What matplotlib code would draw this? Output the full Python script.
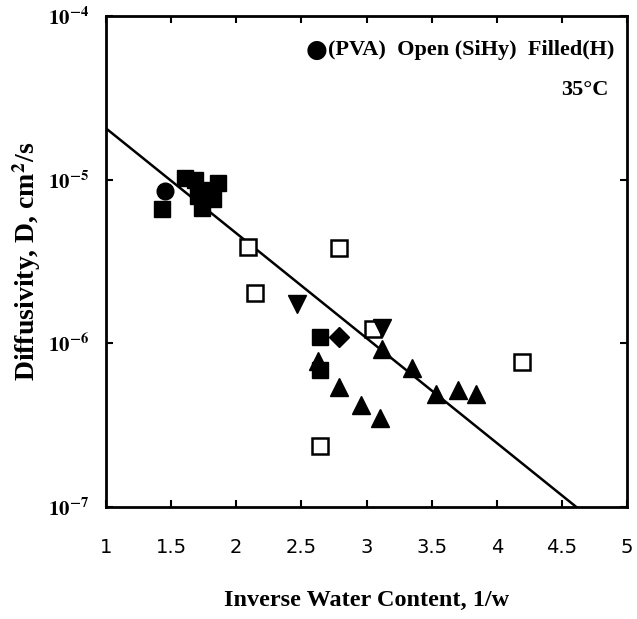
import math
import matplotlib
matplotlib.use("Agg")
import matplotlib.pyplot as plt
import matplotlib.ticker as mticker

plt.rcParams['mathtext.fontset'] = 'stix'
SERIF = 'Liberation Serif'

# PVA (filled circle)
pva_x = [1.45]
pva_y = [8.5e-6]

# filled squares
fsq_x = [1.43, 1.61, 1.68, 1.71, 1.74, 1.78, 1.82, 1.86, 2.64, 2.64]
fsq_y = [6.6e-6, 1.03e-5, 9.9e-6, 8.0e-6, 6.7e-6, 8.6e-6, 7.6e-6, 9.5e-6, 1.09e-6, 6.9e-7]

# open squares (SiHy)
osq_x = [2.09, 2.79, 2.14, 3.05, 2.64, 4.19]
osq_y = [3.9e-6, 3.8e-6, 2.02e-6, 1.22e-6, 2.36e-7, 7.7e-7]

# filled down triangles
dtri_x = [2.47, 3.12]
dtri_y = [1.75e-6, 1.24e-6]

# filled up triangles
utri_x = [2.63, 3.12, 2.79, 2.96, 3.10, 3.35, 3.53, 3.70, 3.84]
utri_y = [7.8e-7, 9.2e-7, 5.4e-7, 4.2e-7, 3.5e-7, 7.1e-7, 4.9e-7, 5.2e-7, 4.9e-7]

# filled diamond
dia_x = [2.79]
dia_y = [1.10e-6]

# regression line end points
fit_x = [1.0, 4.61]
fit_y = [2.06e-5, 1.0e-7]

fig = plt.figure(figsize=(6.37, 6.19), dpi=100)
ax = fig.add_axes([0.1664, 0.181, 0.818, 0.793])

ax.plot(fit_x, fit_y, color='black', lw=1.8, zorder=2)

ax.plot(osq_x, osq_y, 's', ms=11.5, mfc='white', mec='black', mew=1.8, zorder=3)
ax.plot(fsq_x, fsq_y, 's', ms=12, color='black', zorder=4)
ax.plot(pva_x, pva_y, 'o', ms=12, color='black', zorder=4)
ax.plot(utri_x, utri_y, '^', ms=13, color='black', zorder=4)
ax.plot(dtri_x, dtri_y, 'v', ms=13, color='black', zorder=4)
ax.plot(dia_x, dia_y, 'D', ms=10, color='black', zorder=4)

ax.set_yscale('log')
ax.set_xlim(1, 5)
ax.set_ylim(1e-7, 1e-4)
ax.set_xticks([1, 1.5, 2, 2.5, 3, 3.5, 4, 4.5, 5])
ax.set_xticklabels(['1', '1.5', '2', '2.5', '3', '3.5', '4', '4.5', '5'])
ax.yaxis.set_major_locator(mticker.FixedLocator([1e-7, 1e-6, 1e-5, 1e-4]))
ax.yaxis.set_minor_locator(mticker.NullLocator())
ax.yaxis.set_major_formatter(mticker.FuncFormatter(
    lambda v, p: r'$\mathbf{10^{%d}}$' % round(math.log10(v))))

ax.tick_params(axis='both', which='major', direction='in', length=5, width=1.5,
               top=True, right=True)
ax.tick_params(axis='x', labelsize=14, pad=22)
ax.tick_params(axis='y', labelsize=15, pad=12)
for lab in ax.get_xticklabels():
    lab.set_family('DejaVu Sans')
for s in ax.spines.values():
    s.set_linewidth(2)

ax.set_xlabel('Inverse Water Content, 1/w', family=SERIF, fontweight='bold',
              fontsize=17.5, labelpad=24)
ax.set_ylabel(r'Diffusivity, D, cm$^{\mathbf{2}}$/s', family=SERIF, fontweight='bold',
              fontsize=20, labelpad=4)

txt = ax.text(0.975, 0.931, '(PVA)  Open (SiHy)  Filled(H)', transform=ax.transAxes,
              ha='right', va='center', family=SERIF, fontweight='bold', fontsize=16)
ax.annotate('\u25cf', xy=(0, 0.5), xycoords=txt, ha='right', va='center',
            family='DejaVu Sans', fontsize=18)
ax.text(0.965, 0.849, '35\u00b0C', transform=ax.transAxes,
        ha='right', va='center', family=SERIF, fontweight='bold', fontsize=16)

fig.savefig('out.png', dpi=100)
